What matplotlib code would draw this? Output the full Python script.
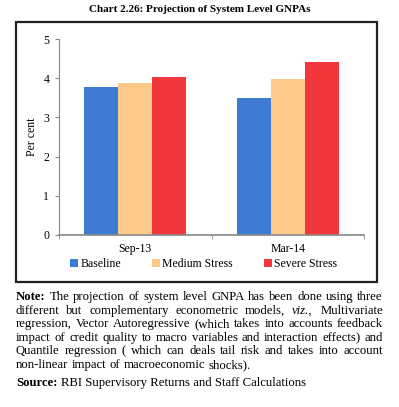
import matplotlib
matplotlib.use("Agg")
import matplotlib.pyplot as plt
import numpy as np
from matplotlib.patches import Rectangle

# data
periods = ["Sep-13", "Mar-14"]
baseline = [3.77, 3.49]
medium = [3.89, 3.99]
severe = [4.02, 4.41]

series_names = ["Baseline", "Medium Stress", "Severe Stress"]
colors = ["#3d7bd4", "#fdca8a", "#f2373c"]

note_lines = [
    "The projection of system level GNPA has been done using three",
    "different but complementary econometric models, viz., Multivariate",
    "regression, Vector Autoregressive (which takes into accounts feedback",
    "impact of credit quality to macro variables and interaction effects) and",
    "Quantile regression ( which can deals tail risk and takes into account",
    "non-linear impact of macroeconomic shocks).",
]
source_text = "RBI Supervisory Returns and Staff Calculations"

plt.rcParams["font.family"] = ["Liberation Serif", "DejaVu Serif"]

W, H = 399, 407
fig = plt.figure(figsize=(W / 100, H / 100), dpi=100)

# frame around chart
fig.patches.append(Rectangle((16 / W, 1 - 282 / H), (377 - 16) / W, (282 - 22) / H,
                             transform=fig.transFigure, fill=False,
                             edgecolor="#222222", linewidth=1.6))

fig.text(0.5, 1 - 10 / H, "Chart 2.26: Projection of System Level GNPAs",
         ha="center", va="center", fontsize=8, fontweight="bold")

ax = fig.add_axes([59 / W, 1 - 235 / H, (364 - 59) / W, (235 - 39) / H])

x = np.arange(len(periods))
bw = 0.223
for i, (vals, name, c) in enumerate(zip([baseline, medium, severe], series_names, colors)):
    ax.bar(x + (i - 1) * bw, vals, width=bw, color=c, label=name)

ax.set_xlim(-0.5, 1.5)
ax.set_ylim(0, 5)
ax.set_yticks(range(0, 6))
ax.set_xticks(x)
ax.set_xticklabels(periods)
ax.set_xticks([-0.5, 0.5, 1.5], minor=True)
ax.tick_params(axis="x", which="major", length=0, labelsize=8.5, pad=6)
ax.tick_params(axis="x", which="minor", length=3, color="#888888")
ax.tick_params(axis="y", length=3, color="#888888", labelsize=8.5, pad=4)
for s in ["top", "right"]:
    ax.spines[s].set_visible(False)
for s in ["left", "bottom"]:
    ax.spines[s].set_color("#888888")
ax.spines["bottom"].set_linewidth(1.2)
ax.set_ylabel("Per cent", fontsize=8.5, labelpad=4)

fig.legend(loc="center", bbox_to_anchor=(0.51, 1 - 264 / H), ncol=3, frameon=False,
           fontsize=8.5, handlelength=0.7, handleheight=0.7, handletextpad=0.2,
           columnspacing=2.6, borderpad=0)

# justified note text
renderer = fig.canvas.get_renderer()
left, right = 16, 383
fs = 9.2
y0 = 300
step = 13.6


def word_width(w, bold=False):
    t = fig.text(0, 0, w, fontsize=fs, fontweight="bold" if bold else "normal")
    bb = t.get_window_extent(renderer)
    t.remove()
    return bb.width


for k, line in enumerate(note_lines):
    words = line.split(" ")
    ypix = y0 + k * step
    items = []
    if k == 0:
        items.append(("Note:", True, False))
    for w in words:
        items.append((w, False, w == "viz.,"))
    widths = [word_width(w, b) for w, b, _ in items]
    total = sum(widths)
    if k < len(note_lines) - 1:
        gap = (right - left - total) / (len(items) - 1)
    else:
        gap = word_width("a b") - word_width("ab")
    xpos = left
    for (w, b, it), wd in zip(items, widths):
        fig.text(xpos / W, 1 - ypix / H, w, fontsize=fs, va="baseline",
                 fontweight="bold" if b else "normal",
                 fontstyle="italic" if it else "normal")
        xpos += wd + gap

ys = 1 - 386 / H
t = fig.text(left / W, ys, "Source:", fontsize=fs, fontweight="bold", va="baseline")
sw = word_width("Source: ", True)
fig.text((left + sw) / W, ys, source_text, fontsize=fs, va="baseline")

fig.savefig("out.png", dpi=100)
